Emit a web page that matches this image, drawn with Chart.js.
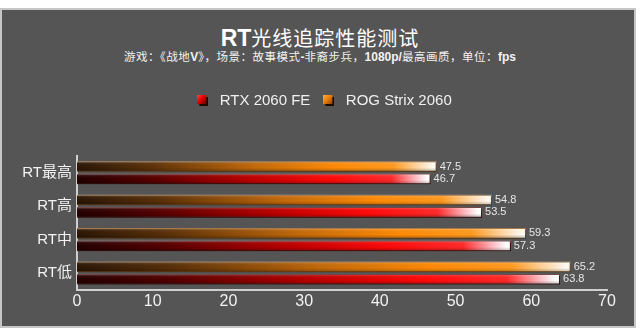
<!DOCTYPE html>
<html><head><meta charset="utf-8">
<script src="https://cdn.jsdelivr.net/npm/chart.js@4/dist/chart.umd.min.js"></script>
<style>
html,body{margin:0;padding:0;background:#fff;width:640px;height:331px;overflow:hidden;}
#panel{position:absolute;left:0;top:8px;width:636px;height:320px;box-sizing:border-box;border:2px solid #c6c6c6;background:#555555;}
#title{position:absolute;left:0;top:28px;width:640px;text-align:center;color:#fff;font:20px/20px "Noto Sans CJK SC",sans-serif;letter-spacing:1px;white-space:nowrap;}
#title b{font:bold 23px/20px "Liberation Sans",Arial,sans-serif;letter-spacing:0;}
#sub{position:absolute;left:0;top:50px;width:640px;text-align:center;color:#f2f2f2;font:11.5px/12px "Noto Sans CJK SC",sans-serif;letter-spacing:0.5px;white-space:nowrap;}
#sub b{font:bold 12px/12px "Liberation Sans",Arial,sans-serif;letter-spacing:0;}
#c{position:absolute;left:0;top:0;}
</style></head>
<body>
<div id="panel"></div>
<div id="title"><b>RT</b>光线追踪性能测试</div>
<div id="sub">游戏：《战地<b>V</b>》，场景：故事模式<b>-</b>非裔步兵，<b>1080p/</b>最高画质，单位：<b>fps</b></div>
<canvas id="c" width="640" height="331"></canvas>
<script>
const categories = ['RT最高', 'RT高', 'RT中', 'RT低'];
const seriesNames = ['RTX 2060 FE', 'ROG Strix 2060'];
const rtx2060FE = [46.7, 53.5, 57.3, 63.8];
const rogStrix2060 = [47.5, 54.8, 59.3, 65.2];
const xTickValues = [0, 10, 20, 30, 40, 50, 60, 70];

const orangeStops = [[0,'#2a1606'],[0.2,'#5a3008'],[0.5,'#c46a0a'],[0.72,'#ff8a06'],[0.88,'#ff9a20'],[0.95,'#ffd8a8'],[0.99,'#fffaf2'],[1,'#fffaf2']];
const redStops = [[0,'#240000'],[0.2,'#540000'],[0.5,'#c00000'],[0.72,'#ff0a0a'],[0.89,'#ff2a2a'],[0.96,'#ffc0c8'],[0.99,'#ffffff'],[1,'#ffffff']];

function barGradient(stops) {
  return (ctx) => {
    const chart = ctx.chart;
    if (!chart.chartArea || ctx.type !== 'data') return stops[3][1];
    const xs = chart.scales.x;
    const x0 = xs.getPixelForValue(xs.min);
    const x1 = xs.getPixelForValue(ctx.raw);
    const g = chart.ctx.createLinearGradient(x0, 0, x1, 0);
    stops.forEach(([o, c]) => g.addColorStop(o, c));
    return g;
  };
}

function legendSwatch(light, mid, dark) {
  const c = document.createElement('canvas');
  c.width = 11; c.height = 11;
  const x = c.getContext('2d');
  x.fillStyle = '#1a0a00';
  x.fillRect(2, 2, 9, 9);
  const g = x.createLinearGradient(0, 0, 9, 9);
  g.addColorStop(0, light); g.addColorStop(0.5, mid); g.addColorStop(1, dark);
  x.fillStyle = g;
  x.fillRect(0, 0, 9, 9);
  return c;
}

Chart.defaults.font.family = '"Liberation Sans", "Noto Sans CJK SC", Arial, sans-serif';

const legendSpace = {
  id: 'legendSpace',
  beforeLayout(chart) {
    const lg = chart.legend;
    if (lg && !lg._patched) {
      const f = lg.fit;
      lg.fit = function () { f.call(this); this.height += 38; };
      lg._patched = true;
    }
  },
  afterLayout(chart) {
    const lg = chart.legend;
    if (lg) { lg.left += 19; lg.right += 19; }
  }
};

const barShade = {
  id: 'barShade',
  afterDatasetsDraw(chart) {
    const ctx = chart.ctx;
    ctx.save();
    chart.data.datasets.forEach((ds, di) => {
      const meta = chart.getDatasetMeta(di);
      meta.data.forEach((el, i) => {
        const p = el.getProps(['x', 'y', 'base', 'height'], true);
        const top = p.y - p.height / 2;
        const g = ctx.createLinearGradient(0, top, 0, top + p.height);
        g.addColorStop(0, 'rgba(255,255,255,0.35)');
        g.addColorStop(0.2, 'rgba(255,255,255,0.05)');
        g.addColorStop(0.6, 'rgba(0,0,0,0)');
        g.addColorStop(1, 'rgba(0,0,0,0.3)');
        ctx.fillStyle = g;
        ctx.fillRect(p.base, top, p.x - p.base, p.height);
        ctx.fillStyle = '#e6e6e6';
        ctx.font = '11px "Liberation Sans", Arial, sans-serif';
        ctx.textBaseline = 'middle';
        ctx.textAlign = 'left';
        ctx.fillText(String(ds.data[i]), p.x + 3, p.y);
      });
    });
    ctx.restore();
  }
};

new Chart(document.getElementById('c'), {
  type: 'bar',
  data: {
    labels: categories,
    datasets: [
      { label: seriesNames[1], data: rogStrix2060, backgroundColor: barGradient(orangeStops),
        borderColor: '#8a4a08', borderWidth: 1, legendSwatch: legendSwatch('#ffb040', '#e87a08', '#8a4000'),
        categoryPercentage: 0.74, barPercentage: 0.86 },
      { label: seriesNames[0], data: rtx2060FE, backgroundColor: barGradient(redStops),
        borderColor: '#400000', borderWidth: 1, legendSwatch: legendSwatch('#ff4040', '#d80000', '#600000'),
        categoryPercentage: 0.74, barPercentage: 0.86 }
    ]
  },
  plugins: [legendSpace, barShade],
  options: {
    indexAxis: 'y',
    responsive: false,
    animation: false,
    layout: { padding: { top: 84, right: 33, bottom: 18, left: 0 } },
    plugins: {
      tooltip: { enabled: false },
      legend: {
        position: 'top',
        reverse: true,
        labels: {
          usePointStyle: true, pointStyleWidth: 19,
          boxWidth: 10, boxHeight: 10, padding: 9,
          color: '#f0f0f0',
          font: { size: 15 },
          generateLabels(chart) {
            const items = Chart.defaults.plugins.legend.labels.generateLabels(chart);
            items.forEach(it => {
              const ds = chart.data.datasets[it.datasetIndex];
              it.pointStyle = ds.legendSwatch;
              it.fontColor = '#f0f0f0';
            });
            return items;
          }
        }
      }
    },
    scales: {
      x: {
        min: 0, max: 70,
        afterBuildTicks(s) { s.ticks = xTickValues.map(v => ({ value: v })); },
        grid: { display: false, drawTicks: false },
        border: { display: true, color: '#cfcfcf', width: 2 },
        ticks: { color: '#f2f2f2', font: { size: 16 }, padding: 2 }
      },
      y: {
        afterFit(s) { s.width = 77; },
        grid: { display: false, drawTicks: false },
        border: { display: true, color: '#cfcfcf', width: 2 },
        ticks: { color: '#f2f2f2', font: { size: 15 }, padding: 5 }
      }
    }
  }
});
</script>
</body></html>
